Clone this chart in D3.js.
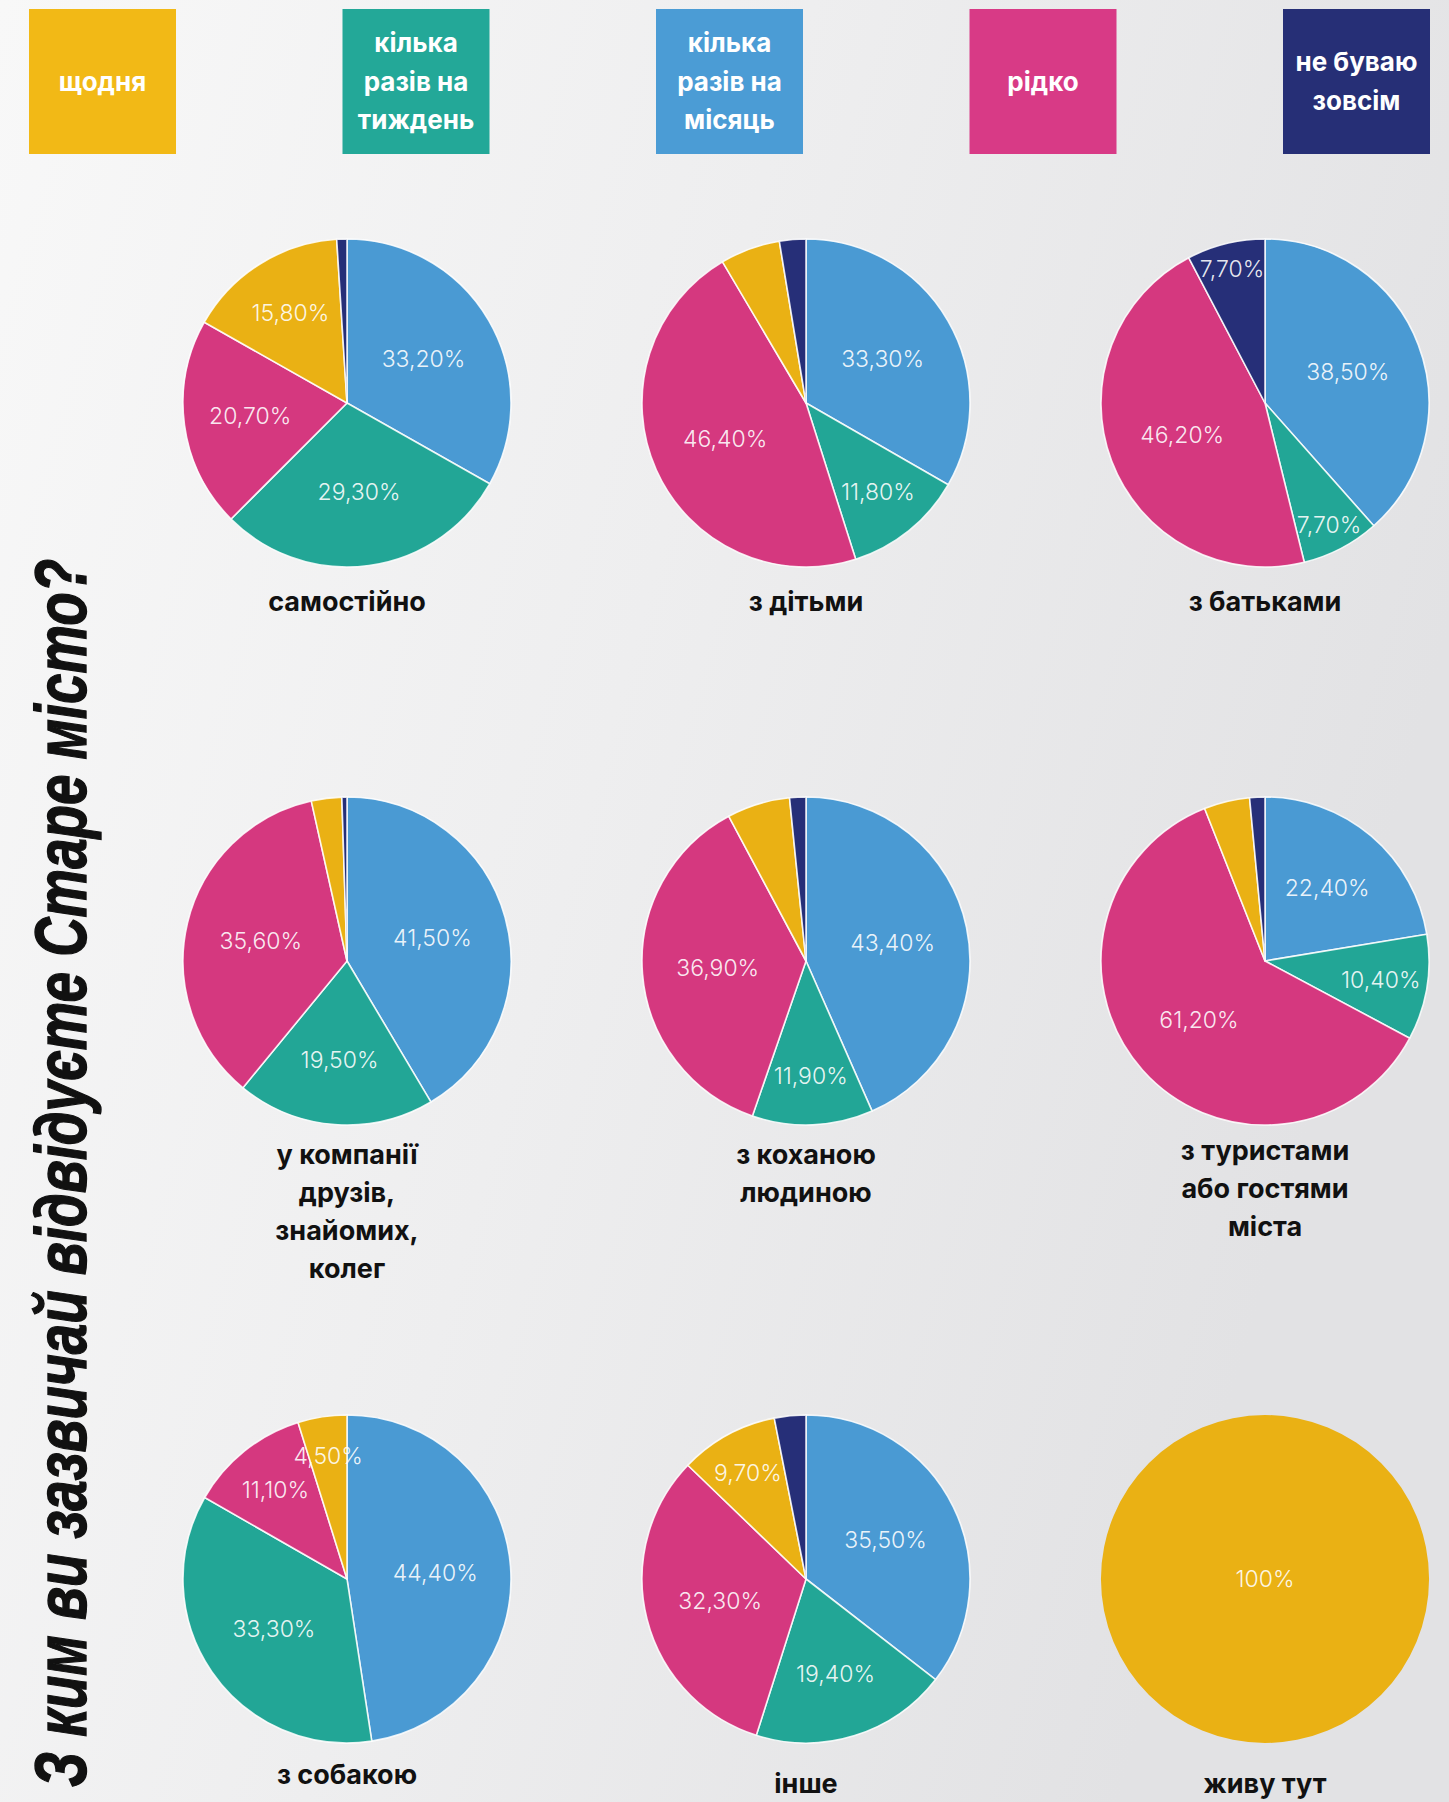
<!DOCTYPE html>
<html lang="uk">
<head>
<meta charset="utf-8">
<title>З ким ви зазвичай відвідуєте Старе місто?</title>
<script src="https://cdn.jsdelivr.net/npm/d3@7"></script>
<style>
  html, body { margin: 0; padding: 0; }
  body { width: 1449px; height: 1802px; overflow: hidden; }
  svg { display: block; }
</style>
</head>
<body>
<div id="chart"></div>
<script>
// Frequency answers (legend order)
const categories = ["щодня", "кілька разів на тиждень", "кілька разів на місяць", "рідко", "не буваю зовсім"];
const legendLines = [["щодня"], ["кілька", "разів на", "тиждень"], ["кілька", "разів на", "місяць"], ["рідко"], ["не буваю", "зовсім"]];

// Company in which respondents visit the Old Town (one pie each)
const groups = ["самостійно", "з дітьми", "з батьками",
                "у компанії друзів, знайомих, колег", "з коханою людиною", "з туристами або гостями міста",
                "з собакою", "інше", "живу тут"];
const groupLines = [["самостійно"], ["з дітьми"], ["з батьками"],
                    ["у компанії", "друзів,", "знайомих,", "колег"], ["з коханою", "людиною"], ["з туристами", "або гостями", "міста"],
                    ["з собакою"], ["інше"], ["живу тут"]];

// Shares, %, per group
const daily   = [15.8, 5.9, 0,    3.0, 6.2, 4.5, 4.5, 9.7, 100];
const weekly  = [29.3, 11.8, 7.7, 19.5, 11.9, 10.4, 33.3, 19.4, 0];
const monthly = [33.2, 33.3, 38.5, 41.5, 43.4, 22.4, 44.4, 35.5, 0];
const rarely  = [20.7, 46.4, 46.2, 35.6, 36.9, 61.2, 11.1, 32.3, 0];
const never   = [1.0,  2.6,  7.7,  0.5,  1.6,  1.5,  0,    3.1,  0];

// Slices (category indices) that carry no printed value
const unlabelled = [[4], [0, 4], [], [0, 4], [0, 4], [0, 4], [], [4], []];

const series = [daily, weekly, monthly, rarely, never];

// ---- styling ----
const W = 1449, H = 1802;
const legendColors = ["#F2B916", "#23A898", "#4B9CD5", "#D83A86", "#262F76"];
const pieColors    = ["#EAB114", "#22A696", "#4A9AD3", "#D5387F", "#262F78"];
// clockwise from 12 o'clock
const sliceOrder = [2, 1, 3, 0, 4];

const svg = d3.select("#chart").append("svg")
  .attr("width", W).attr("height", H)
  .attr("viewBox", `0 0 ${W} ${H}`);

const defs = svg.append("defs");
const bg = defs.append("linearGradient").attr("id", "bg")
  .attr("x1", "0").attr("y1", "0").attr("x2", "1").attr("y2", "0.35");
bg.append("stop").attr("offset", "0").attr("stop-color", "#f8f8f8");
bg.append("stop").attr("offset", "0.5").attr("stop-color", "#eeeeef");
bg.append("stop").attr("offset", "1").attr("stop-color", "#e2e2e4");
svg.append("rect").attr("width", W).attr("height", H).attr("fill", "url(#bg)");

// ---- legend ----
const legendX = d3.scalePoint().domain(d3.range(categories.length)).range([29, 1283]);
const boxW = 147, boxTop = 9, boxH = 145;
const legend = svg.append("g").attr("class", "legend")
  .selectAll("g").data(categories).join("g")
  .attr("transform", (d, i) => `translate(${legendX(i)},${boxTop})`);
legend.append("rect")
  .attr("width", boxW).attr("height", boxH)
  .attr("fill", (d, i) => legendColors[i]);
legend.append("text")
  .attr("x", boxW / 2)
  .attr("text-anchor", "middle")
  .attr("font-family", "Inter, 'Open Sans', sans-serif")
  .attr("font-weight", 700)
  .attr("font-size", 26)
  .attr("fill", "#ffffff")
  .each(function(d, i) {
    const lines = legendLines[i];
    const lh = 38.5;
    const y0 = boxH / 2 - (lines.length - 1) * lh / 2 + 9;
    d3.select(this).selectAll("tspan").data(lines).join("tspan")
      .attr("x", boxW / 2)
      .attr("y", (l, j) => y0 + j * lh)
      .text(l => l);
  });

// ---- title ----
svg.append("text")
  .attr("transform", "translate(86,1787) rotate(-90)")
  .attr("font-family", "'Liberation Sans', Arial, sans-serif")
  .attr("font-weight", 700)
  .attr("font-style", "italic")
  .attr("font-size", 72)
  .attr("fill", "#111111")
  .attr("stroke", "#111111")
  .attr("stroke-width", 1.4)
  .attr("textLength", 1228)
  .attr("lengthAdjust", "spacingAndGlyphs")
  .text("З ким ви зазвичай відвідуєте Старе місто?");

// ---- pies ----
const colX = d3.scalePoint().domain([0, 1, 2]).range([347, 1265]);
const rowY = d3.scaleOrdinal().domain([0, 1, 2]).range([403, 961, 1579]);
const R = 164;
const labelBase = [[611, 611, 611], [1164, 1164, 1160], [1784, 1793, 1793]];

const pie = d3.pie().sort(null).value(d => d.value);
const arc = d3.arc().innerRadius(0).outerRadius(R);
// thin slices push their value further out along the radius
const labelFrac = d3.scaleLinear()
  .domain([0.05, 0.08, 0.1, 0.2, 0.3])
  .range([0.76, 0.85, 0.72, 0.6, 0.54])
  .clamp(true);
const fmt = v => v >= 100 ? "100%" : d3.format(".2f")(v).replace(".", ",") + "%";

groups.forEach((name, gi) => {
  const col = gi % 3, row = Math.floor(gi / 3);
  const g = svg.append("g").attr("class", "pie")
    .attr("transform", `translate(${colX(col)},${rowY(row)})`);

  const slices = sliceOrder
    .map(ci => ({ cat: ci, value: series[ci][gi], labelled: !unlabelled[gi].includes(ci) }))
    .filter(d => d.value > 0);
  const arcs = pie(slices);
  const total = d3.sum(slices, d => d.value);

  g.selectAll("path").data(arcs).join("path")
    .attr("d", arc)
    .attr("fill", d => pieColors[d.data.cat])
    .attr("stroke", arcs.length > 1 ? "rgba(255,255,255,0.85)" : "none")
    .attr("stroke-width", 1.6)
    .attr("stroke-linejoin", "round");

  g.selectAll("text.val").data(arcs.filter(d => d.data.labelled)).join("text")
    .attr("class", "val")
    .attr("transform", d => {
      const share = d.data.value / total;
      const lr = share >= 0.999 ? 0 : R * labelFrac(share);
      const c = d3.arc().innerRadius(lr).outerRadius(lr).centroid(d);
      return `translate(${c[0]},${c[1]})`;
    })
    .attr("text-anchor", "middle")
    .attr("dy", "0.36em")
    .attr("font-family", "Inter, 'Noto Sans', sans-serif")
    .attr("font-weight", 300)
    .attr("font-size", 23)
    .attr("fill", "rgba(255,255,255,0.9)")
    .text(d => fmt(d.data.value));

  // group name under the pie
  svg.append("text")
    .attr("text-anchor", "middle")
    .attr("font-family", "Inter, 'Open Sans', sans-serif")
    .attr("font-weight", 700)
    .attr("font-size", 27)
    .attr("fill", "#111111")
    .selectAll("tspan").data(groupLines[gi]).join("tspan")
    .attr("x", colX(col))
    .attr("y", (l, j) => labelBase[row][col] + j * 38)
    .text(l => l);
});
</script>
</body>
</html>
